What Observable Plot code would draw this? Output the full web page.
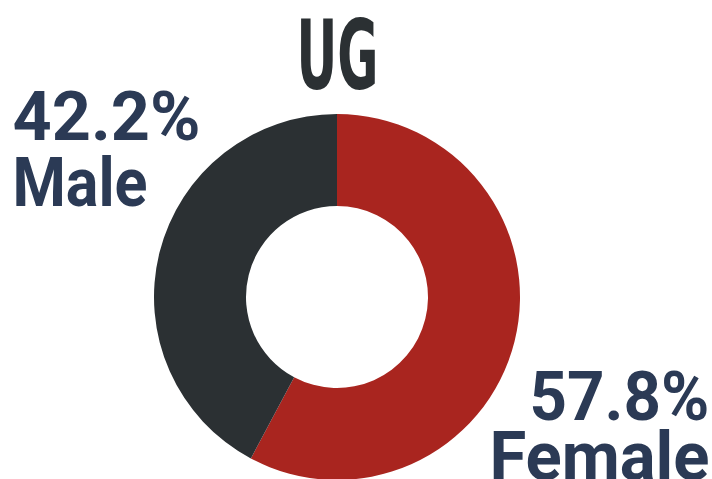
<!DOCTYPE html>
<html>
<head>
<meta charset="utf-8">
<script src="https://cdn.jsdelivr.net/npm/d3@7"></script>
<script src="https://cdn.jsdelivr.net/npm/@observablehq/plot@0.6"></script>
<style>
  html, body { margin: 0; padding: 0; background: #fff; }
  #chart svg { display: block; }
</style>
</head>
<body>
<div id="chart"></div>
<script>
// ---- data ----
const title = "UG";
const categories = ["Female", "Male"];
const values = [57.8, 42.2];
const colors = ["#a9251f", "#2b3033"];

// ---- layout (pixels) ----
const W = 712, H = 479;
const center = {x: 337, y: 297};
const outerR = 183, innerR = 91;
const labelColor = "#2b3a55";

const data = categories.map((c, i) => ({category: c, value: values[i], color: colors[i]}));
const arcs = d3.pie().sort(null).value(d => d.value)(data);
const arcGen = d3.arc().innerRadius(innerR).outerRadius(outerR);

const maleLabel = [{category: categories[1], pct: values[1].toFixed(1) + "%", x: 12, yPct: 139, yName: 205}];
const femaleLabel = [{category: categories[0], pct: values[0].toFixed(1) + "%", x: 709, yPct: 419, yName: 479}];

const donutMark = (index, scales) => {
  const g = d3.create("svg:g")
    .attr("transform", `translate(${scales.x(center.x)},${scales.y(center.y)})`);
  g.selectAll("path").data(arcs).join("path")
    .attr("d", arcGen)
    .attr("fill", d => d.data.color);
  return g.node();
};

const font = "Roboto, 'Open Sans', sans-serif";
const labelMarks = (lbl, anchor) => [
  Plot.text(lbl, {x: "x", y: "yPct", text: "pct", textAnchor: anchor, lineAnchor: "bottom",
    fontSize: 68, fontWeight: 700, fill: labelColor, fontFamily: font, className: "pct-" + anchor}),
  Plot.text(lbl, {x: "x", y: "yName", text: "category", textAnchor: anchor, lineAnchor: "bottom",
    fontSize: 68, fontWeight: 700, fill: labelColor, fontFamily: font, className: "name-" + anchor})
];

const chart = Plot.plot({
  width: W, height: H,
  margin: 0,
  x: {domain: [0, W], range: [0, W], axis: null},
  y: {domain: [0, H], range: [0, H], axis: null},
  marks: [
    donutMark,
    Plot.text([title], {x: () => center.x, y: () => 88, text: d => d, lineAnchor: "bottom",
      textAnchor: "middle", fontSize: 97, fontWeight: 700, fill: "#2b3033",
      fontFamily: "'Liberation Sans Narrow', 'DejaVu Sans Condensed', sans-serif", className: "ug-title"}),
    ...labelMarks(maleLabel, "start"),
    ...labelMarks(femaleLabel, "end")
  ]
});
const sq = (cls, len) => d3.select(chart).selectAll("." + cls + " text")
  .attr("textLength", len).attr("lengthAdjust", "spacingAndGlyphs");
sq("ug-title", 82);
sq("pct-start", 188);
sq("name-start", 135);
sq("pct-end", 180);
sq("name-end", 220);
document.getElementById("chart").appendChild(chart);
</script>
</body>
</html>
